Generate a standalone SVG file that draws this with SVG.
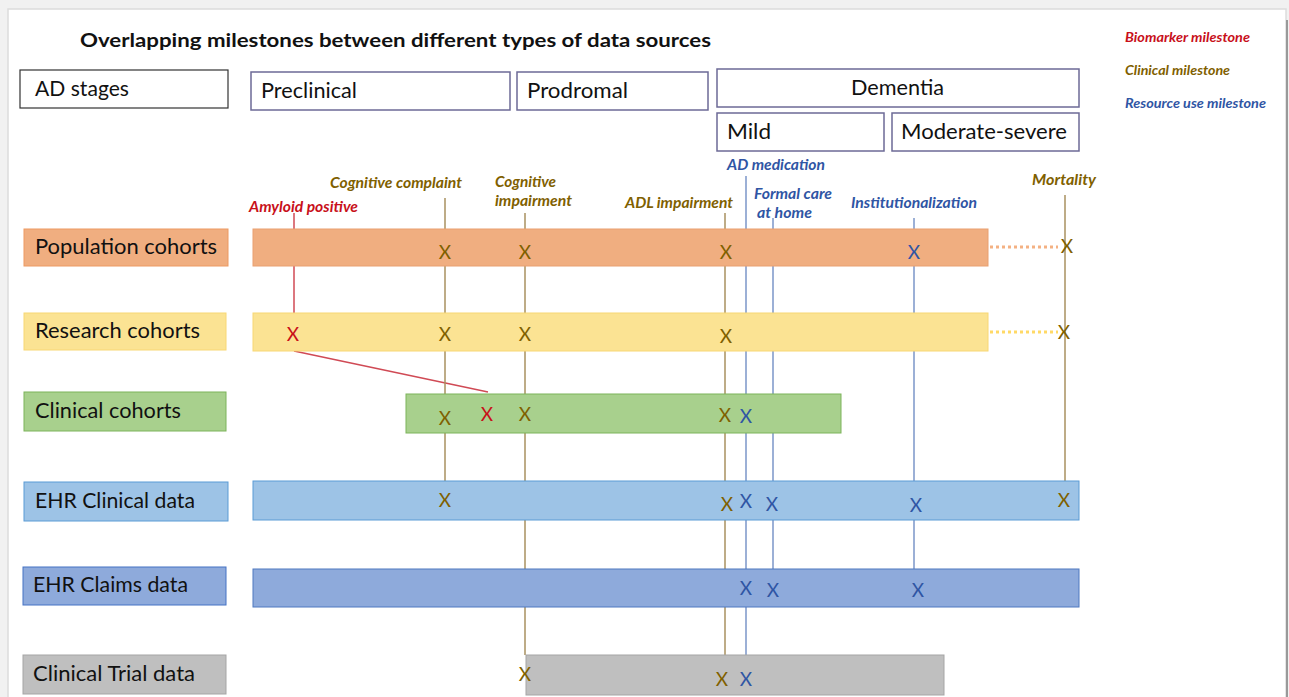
<svg xmlns="http://www.w3.org/2000/svg" width="1289" height="697" viewBox="0 0 1289 697">
<style>
.lbl{font-family:Lato,"Open Sans","Liberation Sans",sans-serif;font-size:21.5px;fill:#111}
.ms{font-family:Lato,"Open Sans","Liberation Sans",sans-serif;font-size:14.5px;font-weight:bold;font-style:italic}
.lg{font-family:Lato,"Open Sans","Liberation Sans",sans-serif;font-size:13.5px;font-weight:bold;font-style:italic}
.x{font-family:Lato,"Open Sans","Liberation Sans",sans-serif;font-size:19px;text-anchor:middle}
.red{fill:#c8101a}.ol{fill:#7f6000}.bl{fill:#2f55a4}
.stage{fill:#fff;stroke:#6c6a96;stroke-width:1.5}
.lr{stroke:#d04a55;stroke-width:1.5;fill:none}
.lo{stroke:#a8915f;stroke-width:1.5;fill:none}
.lb{stroke:#7b96c8;stroke-width:1.5;fill:none}
</style>
<rect x="0" y="0" width="1289" height="697" fill="#f1f1f1"/>
<rect x="8" y="9" width="1278" height="690" fill="#fff" stroke="#dcdcdc" stroke-width="1.5"/>
<line x1="1287" y1="20" x2="1287" y2="697" stroke="#999" stroke-width="2"/>

<text x="80" y="47" font-family="Lato,'Open Sans','Liberation Sans',sans-serif" font-size="19.5" font-weight="bold" fill="#111" textLength="631" lengthAdjust="spacingAndGlyphs">Overlapping milestones between different types of data sources</text>

<g id="legend">
<text class="lg red" x="1125" y="42" textLength="125" lengthAdjust="spacingAndGlyphs">Biomarker milestone</text>
<text class="lg ol" x="1125" y="75" textLength="105" lengthAdjust="spacingAndGlyphs">Clinical milestone</text>
<text class="lg bl" x="1125" y="108" textLength="141" lengthAdjust="spacingAndGlyphs">Resource use milestone</text>
</g>

<g id="stage-ad"><rect x="20" y="70" width="208" height="38" fill="#fff" stroke="#333" stroke-width="1.2"/><text class="lbl" x="35" y="96" textLength="94" lengthAdjust="spacingAndGlyphs">AD stages</text></g>
<g id="stage-preclinical"><rect class="stage" x="251" y="72" width="259" height="38"/><text class="lbl" x="261" y="98" textLength="96" lengthAdjust="spacingAndGlyphs">Preclinical</text></g>
<g id="stage-prodromal"><rect class="stage" x="517" y="72" width="191" height="38"/><text class="lbl" x="527" y="98" textLength="101" lengthAdjust="spacingAndGlyphs">Prodromal</text></g>
<g id="stage-dementia"><rect class="stage" x="717" y="69" width="362" height="38"/><text class="lbl" x="851" y="95" textLength="93" lengthAdjust="spacingAndGlyphs">Dementia</text></g>
<g id="stage-mild"><rect class="stage" x="717" y="113" width="167" height="38"/><text class="lbl" x="727" y="139" textLength="44" lengthAdjust="spacingAndGlyphs">Mild</text></g>
<g id="stage-modsev"><rect class="stage" x="892" y="113" width="187" height="38"/><text class="lbl" x="901" y="139" textLength="166" lengthAdjust="spacingAndGlyphs">Moderate-severe</text></g>

<g id="milestone-labels">
<text class="ms red" x="249" y="212" textLength="109" lengthAdjust="spacingAndGlyphs">Amyloid positive</text>
<text class="ms ol" x="330" y="188" textLength="132" lengthAdjust="spacingAndGlyphs">Cognitive complaint</text>
<text class="ms ol" x="495" y="187" textLength="61" lengthAdjust="spacingAndGlyphs">Cognitive</text>
<text class="ms ol" x="495" y="206" textLength="77" lengthAdjust="spacingAndGlyphs">impairment</text>
<text class="ms ol" x="625" y="208" textLength="108" lengthAdjust="spacingAndGlyphs">ADL impairment</text>
<text class="ms bl" x="727" y="170" textLength="98" lengthAdjust="spacingAndGlyphs">AD medication</text>
<text class="ms bl" x="754" y="199" textLength="78" lengthAdjust="spacingAndGlyphs">Formal care</text>
<text class="ms bl" x="757" y="218" textLength="55" lengthAdjust="spacingAndGlyphs">at home</text>
<text class="ms bl" x="851" y="208" textLength="126" lengthAdjust="spacingAndGlyphs">Institutionalization</text>
<text class="ms ol" x="1032" y="185" textLength="64" lengthAdjust="spacingAndGlyphs">Mortality</text>
</g>

<g id="connectors">
<line class="lr" x1="294" y1="213" x2="294" y2="313"/>
<line class="lr" x1="294" y1="351" x2="488" y2="392"/>
<line class="lo" x1="445" y1="198" x2="445" y2="481"/>
<line class="lo" x1="525" y1="213" x2="525" y2="655"/>
<line class="lo" x1="725" y1="213" x2="725" y2="655"/>
<line class="lb" x1="746" y1="176" x2="746" y2="655"/>
<line class="lb" x1="773" y1="218" x2="773" y2="569"/>
<line class="lb" x1="914" y1="218" x2="914" y2="569"/>
<line class="lo" x1="1065" y1="195" x2="1065" y2="481"/>
<line x1="990" y1="247" x2="1058" y2="247" stroke="#f4b183" stroke-width="3" stroke-dasharray="3 3"/>
<line x1="990" y1="332" x2="1058" y2="332" stroke="#ffd966" stroke-width="3" stroke-dasharray="3 3"/>
</g>

<g id="row-population">
<rect x="24" y="229" width="204" height="37" fill="#f0ae80" stroke="#ed9a62" stroke-width="1"/>
<text class="lbl" x="35" y="254" textLength="182" lengthAdjust="spacingAndGlyphs">Population cohorts</text>
<rect x="253" y="229" width="735" height="37" fill="#f0ae80" stroke="#e9a070" stroke-width="1"/>
<text class="x ol" x="445" y="259">X</text>
<text class="x ol" x="525" y="259">X</text>
<text class="x ol" x="726" y="259">X</text>
<text class="x bl" x="914" y="259">X</text>
<text class="x ol" x="1067" y="253">X</text>
</g>

<g id="row-research">
<rect x="24" y="313" width="202" height="37" fill="#fbe393" stroke="#f8d775" stroke-width="1"/>
<text class="lbl" x="35" y="338" textLength="165" lengthAdjust="spacingAndGlyphs">Research cohorts</text>
<rect x="253" y="313" width="735" height="38" fill="#fbe393" stroke="#f8d775" stroke-width="1"/>
<text class="x red" x="293" y="341">X</text>
<text class="x ol" x="445" y="341">X</text>
<text class="x ol" x="525" y="341">X</text>
<text class="x ol" x="726" y="343">X</text>
<text class="x ol" x="1064" y="339">X</text>
</g>

<g id="row-clinical">
<rect x="24" y="392" width="202" height="39" fill="#a8d08d" stroke="#7cb45a" stroke-width="1"/>
<text class="lbl" x="35" y="418" textLength="146" lengthAdjust="spacingAndGlyphs">Clinical cohorts</text>
<rect x="406" y="394" width="435" height="39" fill="#a8d08d" stroke="#7cb45a" stroke-width="1"/>
<text class="x ol" x="445" y="425">X</text>
<text class="x red" x="487" y="421">X</text>
<text class="x ol" x="525" y="421">X</text>
<text class="x ol" x="725" y="422">X</text>
<text class="x bl" x="746" y="423">X</text>
</g>

<g id="row-ehr-clinical">
<rect x="24" y="482" width="204" height="39" fill="#9dc3e6" stroke="#5b9bd5" stroke-width="1"/>
<text class="lbl" x="35" y="508" textLength="160" lengthAdjust="spacingAndGlyphs">EHR Clinical data</text>
<rect x="253" y="481" width="826" height="39" fill="#9dc3e6" stroke="#5b9bd5" stroke-width="1"/>
<text class="x ol" x="445" y="507">X</text>
<text class="x ol" x="727" y="511">X</text>
<text class="x bl" x="746" y="508">X</text>
<text class="x bl" x="772" y="511">X</text>
<text class="x bl" x="916" y="512">X</text>
<text class="x ol" x="1064" y="507">X</text>
</g>

<g id="row-ehr-claims">
<rect x="23" y="567" width="203" height="38" fill="#8eaadb" stroke="#4472c4" stroke-width="1"/>
<text class="lbl" x="33" y="592" textLength="155" lengthAdjust="spacingAndGlyphs">EHR Claims data</text>
<rect x="253" y="569" width="826" height="38" fill="#8eaadb" stroke="#4f78c0" stroke-width="1"/>
<text class="x bl" x="746" y="595">X</text>
<text class="x bl" x="773" y="597">X</text>
<text class="x bl" x="918" y="597">X</text>
</g>

<g id="row-trial">
<rect x="23" y="655" width="203" height="39" fill="#bfbfbf" stroke="#a5a5a5" stroke-width="1"/>
<text class="lbl" x="33" y="681" textLength="162" lengthAdjust="spacingAndGlyphs">Clinical Trial data</text>
<rect x="526" y="655" width="418" height="40" fill="#bfbfbf" stroke="#a5a5a5" stroke-width="1"/>
<text class="x ol" x="525" y="681">X</text>
<text class="x ol" x="722" y="686">X</text>
<text class="x bl" x="746" y="686">X</text>
</g>
</svg>
